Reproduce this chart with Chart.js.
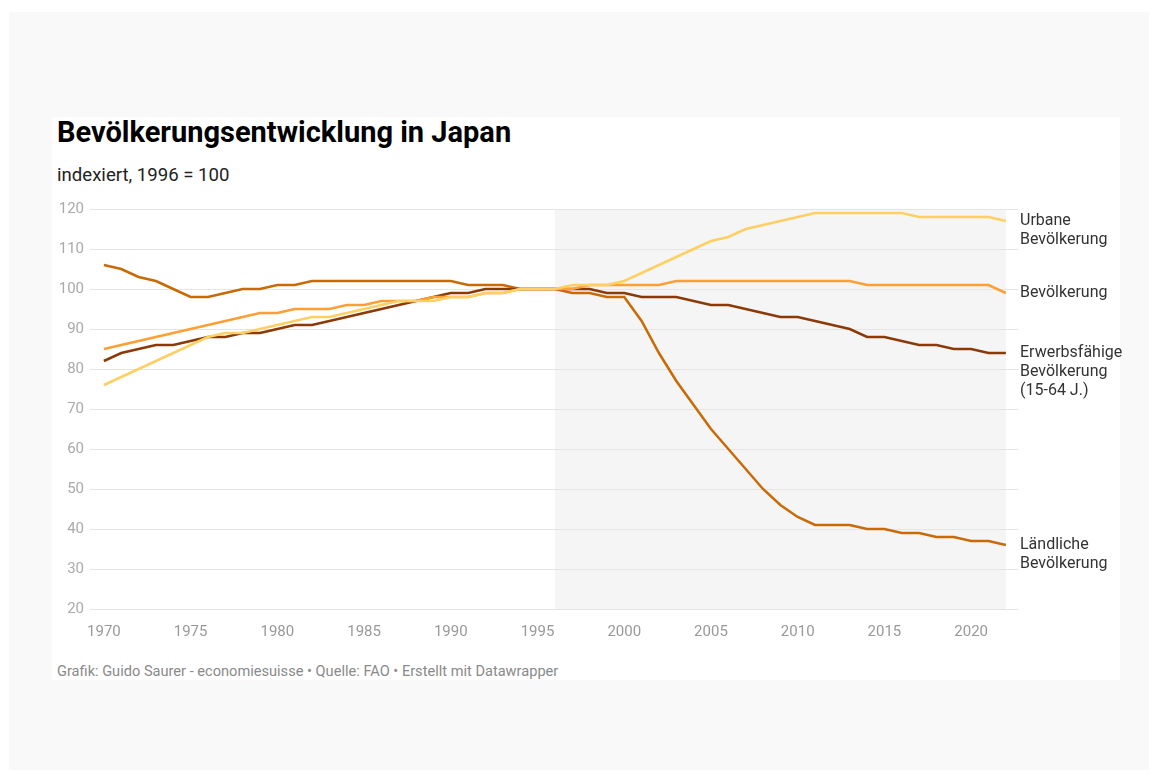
<!DOCTYPE html>
<html>
<head>
<meta charset="utf-8">
<script src="https://cdn.jsdelivr.net/npm/chart.js@4"></script>
<style>
  body { margin: 0; background: #fff; font-family: Roboto, sans-serif; }
  #outer { position: absolute; left: 9px; top: 12px; width: 1140px; height: 758px; background: #f9f9f9; }
  #card { position: absolute; left: 52px; top: 117px; width: 1068px; height: 563px; background: #fff; }
  #title { position: absolute; left: 57px; top: 115px; font-size: 29px; font-weight: 700; color: #000; }
  #subtitle { position: absolute; left: 57px; top: 164px; font-size: 18.6px; color: #222; }
  #footer { position: absolute; left: 57px; top: 662px; font-size: 14.6px; color: #8a8a8a; }
  #wrap { position: absolute; left: 0; top: 0; width: 1158px; height: 776px; }
</style>
</head>
<body>
<div id="outer"></div>
<div id="card"></div>
<div id="title">Bevölkerungsentwicklung in Japan</div>
<div id="subtitle">indexiert, 1996 = 100</div>
<div id="footer">Grafik: Guido Saurer - economiesuisse • Quelle: FAO • Erstellt mit Datawrapper</div>
<div id="wrap"><canvas id="chart"></canvas></div>
<script>
const years = [];
for (let y = 1970; y <= 2022; y++) years.push(y);

const urban = [76, 78, 80, 82, 84, 86, 88, 89, 89, 90, 91, 92, 93, 93, 94, 95, 96, 97, 97, 97,
  98, 98, 99, 99, 100, 100, 100, 101, 101, 101, 102, 104, 106, 108, 110, 112, 113, 115, 116, 117,
  118, 119, 119, 119, 119, 119, 119, 118, 118, 118, 118, 118, 117];
const total = [85, 86, 87, 88, 89, 90, 91, 92, 93, 94, 94, 95, 95, 95, 96, 96, 97, 97, 97, 98,
  98, 98, 99, 99, 100, 100, 100, 100, 101, 101, 101, 101, 101, 102, 102, 102, 102, 102, 102, 102,
  102, 102, 102, 102, 101, 101, 101, 101, 101, 101, 101, 101, 99];
const working = [82, 84, 85, 86, 86, 87, 88, 88, 89, 89, 90, 91, 91, 92, 93, 94, 95, 96, 97, 98,
  99, 99, 100, 100, 100, 100, 100, 100, 100, 99, 99, 98, 98, 98, 97, 96, 96, 95, 94, 93,
  93, 92, 91, 90, 88, 88, 87, 86, 86, 85, 85, 84, 84];
const rural = [106, 105, 103, 102, 100, 98, 98, 99, 100, 100, 101, 101, 102, 102, 102, 102, 102, 102, 102, 102,
  102, 101, 101, 101, 100, 100, 100, 99, 99, 98, 98, 92, 84, 77, 71, 65, 60, 55, 50, 46,
  43, 41, 41, 41, 40, 40, 39, 39, 38, 38, 37, 37, 36];

const xTicks = [1970, 1975, 1980, 1985, 1990, 1995, 2000, 2005, 2010, 2015, 2020];
const highlightFrom = 1996;

const series = [
  { label: ['Urbane', 'Bevölkerung'], values: urban, color: '#fed063' },
  { label: ['Bevölkerung'], values: total, color: '#fd9f35' },
  { label: ['Erwerbsfähige', 'Bevölkerung', '(15-64 J.)'], values: working, color: '#8b3906' },
  { label: ['Ländliche', 'Bevölkerung'], values: rural, color: '#c96a05' }
];

const shadePlugin = {
  id: 'shade',
  beforeDraw(chart) {
    const { ctx, chartArea, scales } = chart;
    const x0 = scales.x.getPixelForValue(highlightFrom);
    const x1 = scales.x.getPixelForValue(years[years.length - 1]);
    ctx.save();
    ctx.fillStyle = '#f5f5f5';
    ctx.fillRect(x0, chartArea.top, x1 - x0, chartArea.bottom - chartArea.top);
    ctx.restore();
  }
};

const labelPlugin = {
  id: 'endLabels',
  afterDatasetsDraw(chart) {
    const { ctx, chartArea, scales } = chart;
    ctx.save();
    ctx.font = '16px Roboto';
    ctx.fillStyle = '#333';
    ctx.textBaseline = 'middle';
    ctx.textAlign = 'left';
    series.forEach(s => {
      const y = scales.y.getPixelForValue(s.values[s.values.length - 1]);
      s.label.forEach((line, i) => ctx.fillText(line, chartArea.right + 2, y + i * 19));
    });
    ctx.restore();
  }
};

new Chart(document.getElementById('chart'), {
  type: 'line',
  data: {
    datasets: series.map(s => ({
      label: s.label.join(' '),
      data: years.map((yr, i) => ({ x: yr, y: s.values[i] })),
      borderColor: s.color,
      borderWidth: 2.5,
      pointRadius: 0,
      tension: 0,
      fill: false
    }))
  },
  options: {
    responsive: true,
    maintainAspectRatio: false,
    animation: false,
    layout: { padding: { left: 50, right: 140, top: 209, bottom: 137 } },
    plugins: { legend: { display: false }, tooltip: { enabled: false } },
    scales: {
      x: {
        type: 'linear',
        min: 1969.2,
        max: 2022.7,
        afterBuildTicks: scale => { scale.ticks = xTicks.map(v => ({ value: v })); },
        afterFit: scale => { scale.height = 30; },
        grid: { display: false },
        border: { display: false },
        ticks: { color: '#999', font: { family: 'Roboto', size: 15 }, padding: 6, maxRotation: 0, callback: v => String(v) }
      },
      y: {
        min: 20,
        max: 120,
        afterFit: scale => { scale.width = 40; },
        grid: { color: '#e5e5e5', lineWidth: 1, drawTicks: false },
        border: { display: false },
        ticks: { stepSize: 10, color: '#aaa', font: { family: 'Roboto', size: 15 }, padding: 6 }
      }
    }
  },
  plugins: [shadePlugin, labelPlugin]
});
</script>
</body>
</html>
